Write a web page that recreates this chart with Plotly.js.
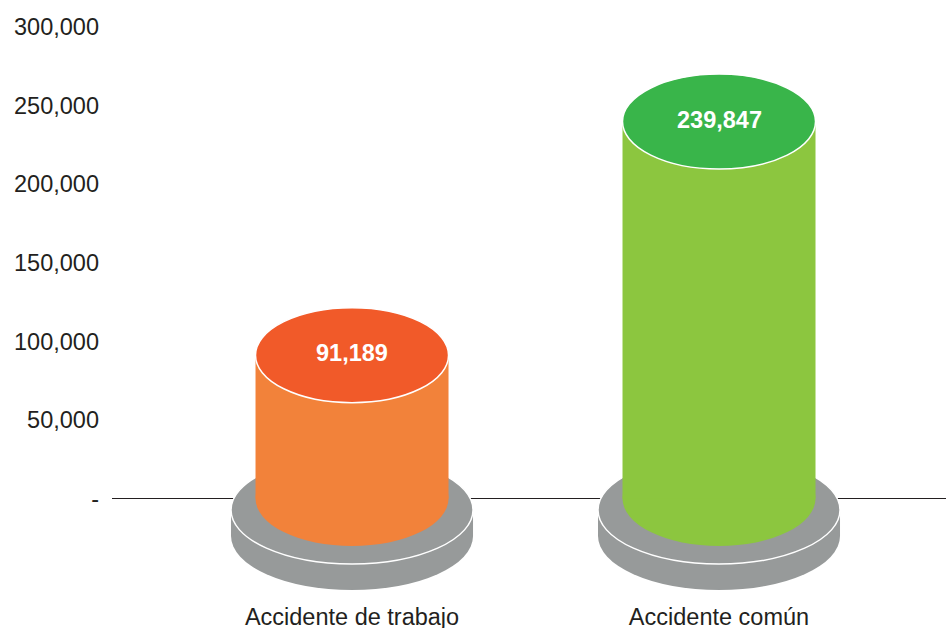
<!DOCTYPE html>
<html>
<head>
<meta charset="utf-8">
<script src="https://cdn.plot.ly/plotly-3.0.1.min.js"></script>
<style>html,body{margin:0;padding:0;background:#fff;}#chart{width:946px;height:628px;}</style>
</head>
<body>
<div id="chart"></div>
<script>
// ---- data ----
const categories = ["Accidente de trabajo", "Accidente común"];
const values = [91189, 239847];
const tickVals = [0, 50000, 100000, 150000, 200000, 250000, 300000];
const tickText = ["-", "50,000", "100,000", "150,000", "200,000", "250,000", "300,000"];

// ---- styles ----
const bodyColors = ["#F2823A", "#8CC63F"];
const capColors = ["#F15A29", "#39B54A"];
const baseGray = "#979A9A";
const textColor = "#231F20";
const fontFam = "Liberation Sans, Arial, Helvetica, sans-serif";

// ---- layout geometry ----
const W = 946, H = 628;
const margin = {l: 112, r: 0, t: 5, b: 28};
const plotH = H - margin.t - margin.b;
const plotW = W - margin.l - margin.r;
const yRange = [-64580, 313998];
const xRange = [-0.654, 1.6185];
const pxPerUnitY = plotH / (yRange[1] - yRange[0]);
const pxPerUnitX = plotW / (xRange[1] - xRange[0]);
const uy = px => px / pxPerUnitY;
const ux = px => px / pxPerUnitX;

const barW = ux(193);
const capB = uy(47.5);
const baseA = ux(121);
const baseTopC = -uy(11.5);
const baseB = uy(54);
const baseThick = uy(26);

const xs = categories.map((c, i) => i);

const shapes = [];
xs.forEach((x, i) => {
  // base disk side (lower ellipse + band)
  shapes.push({type: "circle", layer: "between", xref: "x", yref: "y",
    x0: x - baseA, x1: x + baseA, y0: baseTopC - baseThick - baseB, y1: baseTopC - baseThick + baseB,
    fillcolor: baseGray, line: {width: 0}});
  shapes.push({type: "rect", layer: "between", xref: "x", yref: "y",
    x0: x - baseA, x1: x + baseA, y0: baseTopC - baseThick, y1: baseTopC,
    fillcolor: baseGray, line: {width: 0}});
  // base disk top face
  shapes.push({type: "circle", layer: "between", xref: "x", yref: "y",
    x0: x - baseA, x1: x + baseA, y0: baseTopC - baseB, y1: baseTopC + baseB,
    fillcolor: baseGray, line: {color: "#FFFFFF", width: 1.5}});
  // cylinder bottom
  shapes.push({type: "circle", layer: "between", xref: "x", yref: "y",
    x0: x - barW / 2, x1: x + barW / 2, y0: -capB, y1: capB,
    fillcolor: bodyColors[i], line: {width: 0}});
  // cylinder top cap
  shapes.push({type: "circle", layer: "above", xref: "x", yref: "y",
    x0: x - barW / 2, x1: x + barW / 2, y0: values[i] - capB, y1: values[i] + capB,
    fillcolor: capColors[i], line: {color: "#FFFFFF", width: 1.5}});
});

const annotations = xs.map((x, i) => ({
  x: x, y: values[i], xref: "x", yref: "y", showarrow: false,
  text: "<b>" + values[i].toLocaleString("en-US") + "</b>",
  font: {family: fontFam, size: 23.5, color: "#FFFFFF"},
  yshift: 2
}));

const trace = {
  type: "bar",
  x: xs,
  y: values,
  width: barW,
  marker: {color: bodyColors, line: {width: 0}},
  hoverinfo: "skip",
  showlegend: false
};

const layout = {
  width: W, height: H,
  margin: margin,
  paper_bgcolor: "#FFFFFF",
  plot_bgcolor: "#FFFFFF",
  showlegend: false,
  font: {family: fontFam, size: 23.5, color: textColor},
  xaxis: {
    range: xRange, tickvals: xs, ticktext: categories,
    showgrid: false, zeroline: false, showline: false, ticks: "",
    tickfont: {family: fontFam, size: 23.5, color: textColor},
    fixedrange: true
  },
  yaxis: {
    range: yRange, tickvals: tickVals, ticktext: tickText,
    showgrid: false, showline: false, ticks: "",
    zeroline: true, zerolinecolor: textColor, zerolinewidth: 1.5,
    ticklabelstandoff: 12,
    tickfont: {family: fontFam, size: 23.5, color: textColor},
    fixedrange: true
  },
  shapes: shapes,
  annotations: annotations
};

Plotly.newPlot("chart", [trace], layout, {displayModeBar: false, staticPlot: true});
</script>
</body>
</html>
